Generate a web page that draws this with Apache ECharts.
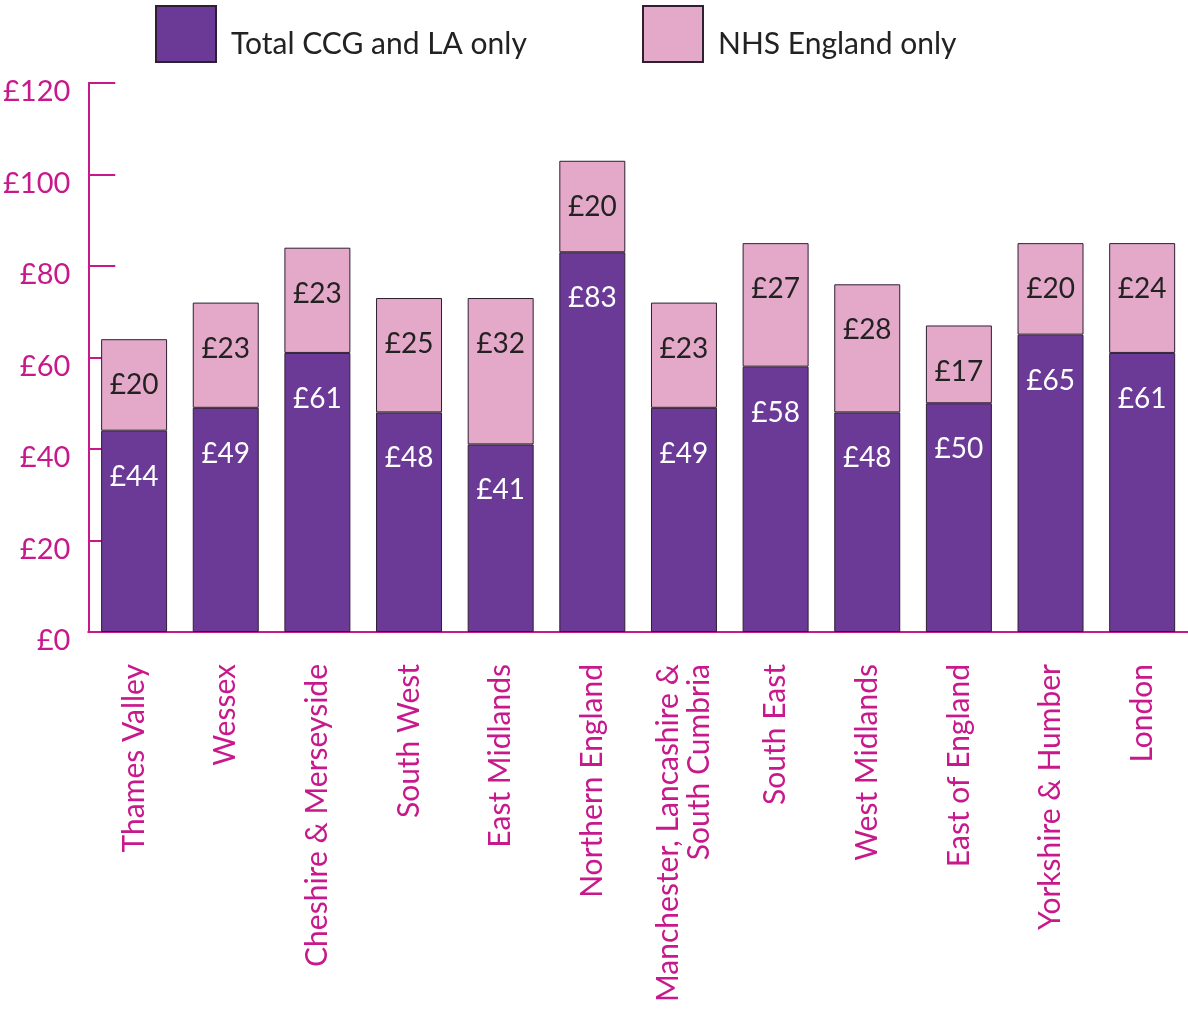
<!DOCTYPE html>
<html><head><meta charset="utf-8">
<script src="https://cdn.jsdelivr.net/npm/echarts@6/dist/echarts.min.js"></script>
<style>html,body{margin:0;padding:0;background:#fff}#c{width:1188px;height:1018px}</style>
</head><body><div id="c"></div>
<script>
const categories = ["Thames Valley","Wessex","Cheshire & Merseyside","South West","East Midlands","Northern England","Manchester, Lancashire &\nSouth Cumbria","South East","West Midlands","East of England","Yorkshire & Humber","London"];
const ccgLa = [44,49,61,48,41,83,49,58,48,50,65,61];
const nhsEngland = [20,23,23,25,32,20,23,27,28,17,20,24];
const yTicks = [0,20,40,60,80,100,120];

const FONT = 'Lato, "Open Sans", sans-serif';
const MAG = '#c8198c';
const chart = echarts.init(document.getElementById('c'));
const lbl = (color) => ({
  show: true, position: ['50%', 46], align: 'center', verticalAlign: 'middle',
  color: color, fontSize: 28, fontFamily: FONT, formatter: p => '£' + p.value
});
const legendText = {fontSize: 30, color: '#222', fontFamily: FONT,
  rich: {t: {fontSize: 30, color: '#222', fontFamily: FONT, padding: [20, 0, 0, 10]}}};
chart.setOption({
  animation: false,
  textStyle: {fontFamily: FONT},
  legend: [
    {data: ['Total CCG and LA only'], icon: 'rect', left: 150, top: 0, itemWidth: 60, itemHeight: 56, textStyle: legendText, formatter: n => '{t|' + n + '}'},
    {data: ['NHS England only'], icon: 'rect', left: 637, top: 0, itemWidth: 60, itemHeight: 56, textStyle: legendText, formatter: n => '{t|' + n + '}'}
  ],
  grid: {left: 88, right: 0, top: 83, bottom: 386, containLabel: false},
  xAxis: {
    type: 'category', data: categories,
    axisLine: {lineStyle: {color: MAG, width: 2}},
    axisTick: {show: false},
    axisLabel: {rotate: 90, color: MAG, fontSize: 30, fontFamily: FONT, margin: 32, lineHeight: 31, interval: 0}
  },
  yAxis: {
    type: 'value', min: yTicks[0], max: yTicks[yTicks.length-1], interval: 20,
    axisLine: {show: true, lineStyle: {color: MAG, width: 2}},
    axisTick: {show: true, inside: true, length: 27, lineStyle: {color: MAG, width: 2}},
    splitLine: {show: false},
    axisLabel: {color: MAG, fontSize: 29, fontFamily: FONT, margin: 18, formatter: v => '{v|£' + v + '}',
      rich: {v: {color: MAG, fontSize: 29, fontFamily: FONT, padding: [18, 0, 0, 0]}}}
  },
  series: [
    {name: 'Total CCG and LA only', type: 'bar', stack: 'a', data: ccgLa, barCategoryGap: '28%',
     itemStyle: {color: '#6a3a96', borderColor: '#2e1f33', borderWidth: 1}, label: lbl('#fff')},
    {name: 'NHS England only', type: 'bar', stack: 'a', data: nhsEngland,
     itemStyle: {color: '#e4a8c9', borderColor: '#2e1f33', borderWidth: 1}, label: lbl('#222')}
  ]
});
</script></body></html>
